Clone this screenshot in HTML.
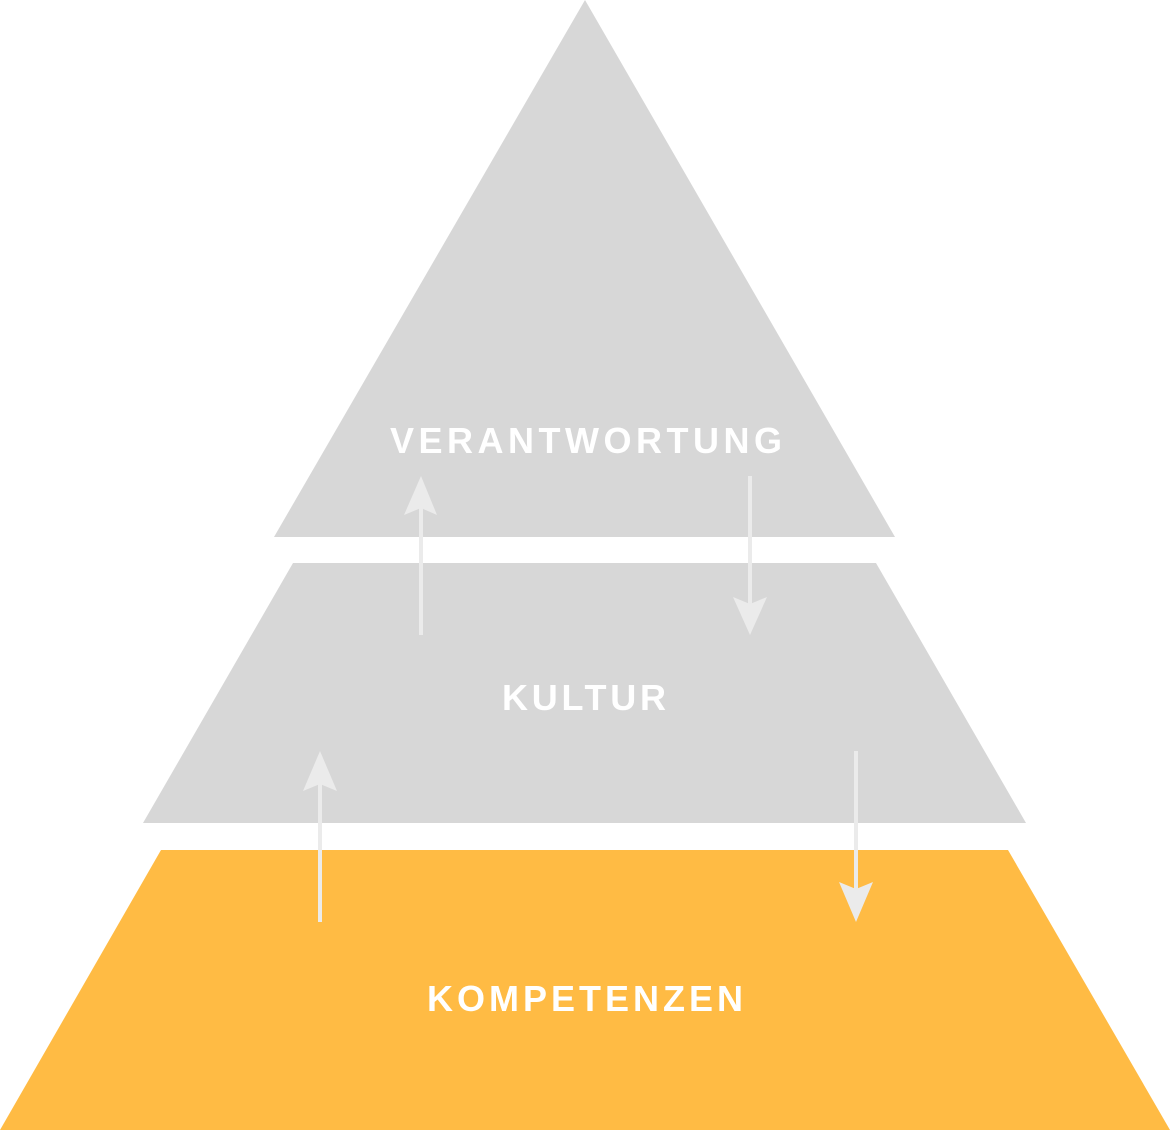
<!DOCTYPE html>
<html><head><meta charset="utf-8"><style>html,body{margin:0;padding:0;background:#fff}svg{display:block}</style></head>
<body>
<svg width="1170" height="1130" viewBox="0 0 1170 1130" xmlns="http://www.w3.org/2000/svg">
<polygon points="585,0 895,537 274,537" fill="#d7d7d7"/>
<polygon points="293,563 876,563 1026,823 143,823" fill="#d7d7d7"/>
<polygon points="161,850 1008,850 1170,1130 0,1130" fill="#ffbb44"/>
<g fill="#ebebeb" stroke="none">
<rect x="419" y="505" width="4" height="130"/>
<polygon points="421,476 437,515 421,508 404,515"/>
<rect x="748" y="476" width="4" height="130"/>
<polygon points="750,635 767,597 750,604 733,597"/>
<rect x="318" y="780" width="4" height="142"/>
<polygon points="320,751 337,791 320,784 303,791"/>
<rect x="854" y="751" width="4" height="140"/>
<polygon points="856,922 873,882 856,889 839,882"/>
</g>
<g fill="#fff" font-family="Liberation Sans, sans-serif" font-weight="bold" font-size="36">
<text x="390" y="453" textLength="392" lengthAdjust="spacing">VERANTWORTUNG</text>
<text x="502" y="710" textLength="164" lengthAdjust="spacing">KULTUR</text>
<text x="427" y="1011" textLength="316" lengthAdjust="spacing">KOMPETENZEN</text>
</g>
</svg>
</body></html>
